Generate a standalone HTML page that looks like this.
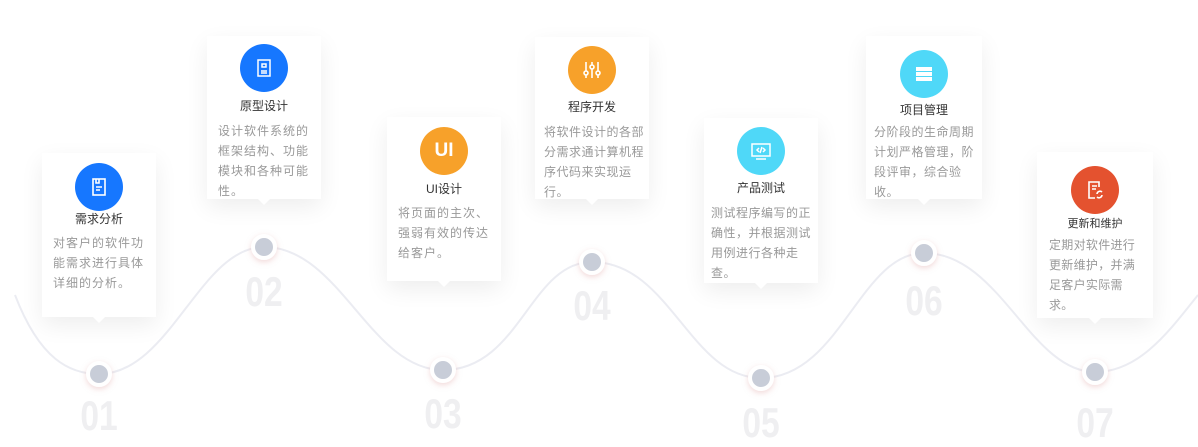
<!DOCTYPE html>
<html><head><meta charset="utf-8"><style>
*{margin:0;padding:0;box-sizing:border-box}
body{width:1198px;height:447px;background:#fff;position:relative;overflow:hidden;font-family:"Liberation Sans","Noto Sans CJK SC",sans-serif}
.card{position:absolute;background:#fff;box-shadow:0 8px 22px rgba(0,0,0,0.07)}
.card:after{content:"";position:absolute;left:50%;bottom:-6px;margin-left:-6px;border-left:6px solid transparent;border-right:6px solid transparent;border-top:6px solid #fff}
.ic{position:absolute;width:48px;height:48px;border-radius:50%;left:50%;margin-left:-24px;display:flex;align-items:center;justify-content:center;color:#fff}
.t{position:absolute;left:0;right:0;text-align:center;font-size:12px;color:#333;line-height:16px}
.d{position:absolute;left:11px;right:0;font-size:12px;color:#999;line-height:20px;letter-spacing:1px;white-space:nowrap}
.num{position:absolute;width:80px;margin-left:-40px;text-align:center;font-size:42px;font-weight:bold;color:#efeff1;transform:scaleX(0.8)}
.dot{position:absolute;width:26px;height:26px;margin:-13px 0 0 -13px;border-radius:50%;background:#c8cdd8;border:4px solid #fff;box-shadow:0 2px 6px rgba(230,180,180,0.5)}
</style></head><body>
<svg width="1198" height="447" style="position:absolute;left:0;top:0">
<path d="M15,295 C40,360 70,374 99,374 C170,374 200,247 264,247 C340,247 370,370 443,370 C520,370 530,262 592,262 C670,262 690,378 761,378 C840,378 860,253 924,253 C1000,253 1030,372 1095,372 C1140,372 1170,330 1198,295" fill="none" stroke="#ebecf2" stroke-width="2"/>
</svg>
<div class="num" style="left:99px;top:392px">01</div>
<div class="num" style="left:264px;top:268px">02</div>
<div class="num" style="left:443px;top:390px">03</div>
<div class="num" style="left:592px;top:282px">04</div>
<div class="num" style="left:761px;top:399px">05</div>
<div class="num" style="left:924px;top:277px">06</div>
<div class="num" style="left:1095px;top:399px">07</div>
<div class="dot" style="left:99px;top:374px"></div>
<div class="dot" style="left:264px;top:247px"></div>
<div class="dot" style="left:443px;top:370px"></div>
<div class="dot" style="left:592px;top:262px"></div>
<div class="dot" style="left:761px;top:378px"></div>
<div class="dot" style="left:924px;top:253px"></div>
<div class="dot" style="left:1095px;top:372px"></div>

<div class="card" style="left:42px;top:153px;width:114px;height:164px">
<div class="ic" style="top:10px;background:#1677ff"><svg width="20" height="20" viewBox="0 0 20 20" fill="none" stroke="#fff" stroke-width="1.6"><rect x="4" y="2" width="12" height="16"/><path d="M7 2v4h3V2M7 10h6M7 13h4"/></svg></div>
<div class="t" style="top:58px">需求分析</div>
<div class="d" style="top:80px">对客户的软件功<br>能需求进行具体<br>详细的分析。</div></div>

<div class="card" style="left:207px;top:36px;width:114px;height:163px">
<div class="ic" style="top:8px;background:#1677ff"><svg width="20" height="20" viewBox="0 0 20 20" fill="none" stroke="#fff" stroke-width="1.5"><rect x="4" y="2" width="12" height="16"/><path d="M8 6h4v3H8zM7 13h6M7 15h6"/></svg></div>
<div class="t" style="top:62px">原型设计</div>
<div class="d" style="top:85px">设计软件系统的<br>框架结构、功能<br>模块和各种可能<br>性。</div></div>

<div class="card" style="left:387px;top:117px;width:114px;height:164px">
<div class="ic" style="top:10px;background:#f7a12a;font-size:19px;font-weight:bold">UI</div>
<div class="t" style="top:64px">UI设计</div>
<div class="d" style="top:86px">将页面的主次、<br>强弱有效的传达<br>给客户。</div></div>

<div class="card" style="left:535px;top:37px;width:114px;height:162px">
<div class="ic" style="top:9px;background:#f7a12a"><svg width="22" height="22" viewBox="0 0 22 22" fill="none" stroke="#fff" stroke-width="1.6"><path d="M5 3v16M11 3v16M17 3v16"/><circle cx="5" cy="14" r="2" fill="#f7a12a"/><circle cx="11" cy="8" r="2" fill="#f7a12a"/><circle cx="17" cy="14" r="2" fill="#f7a12a"/></svg></div>
<div class="t" style="top:62px">程序开发</div>
<div class="d" style="top:85px;left:9px;letter-spacing:0.5px">将软件设计的各部<br>分需求通计算机程<br>序代码来实现运<br>行。</div></div>

<div class="card" style="left:704px;top:118px;width:114px;height:165px">
<div class="ic" style="top:9px;background:#4fd8f8"><svg width="22" height="22" viewBox="0 0 22 22" fill="none" stroke="#fff" stroke-width="1.5"><rect x="2" y="4" width="18" height="12"/><path d="M6 19h10M9 8l-2 2 2 2M13 8l2 2-2 2M12 7l-2 6"/></svg></div>
<div class="t" style="top:62px">产品测试</div>
<div class="d" style="top:85px;left:7px;letter-spacing:0.5px">测试程序编写的正<br>确性，并根据测试<br>用例进行各种走<br>查。</div></div>

<div class="card" style="left:866px;top:36px;width:116px;height:163px">
<div class="ic" style="top:14px;background:#4fd8f8"><svg width="22" height="22" viewBox="0 0 22 22" fill="#fff"><rect x="3" y="4" width="16" height="4"/><rect x="3" y="9" width="16" height="4"/><rect x="3" y="14" width="16" height="4"/></svg></div>
<div class="t" style="top:66px">项目管理</div>
<div class="d" style="top:86px;left:8px;letter-spacing:0.5px">分阶段的生命周期<br>计划严格管理，阶<br>段评审，综合验<br>收。</div></div>

<div class="card" style="left:1037px;top:152px;width:116px;height:166px">
<div class="ic" style="top:14px;background:#e4522f"><svg width="22" height="22" viewBox="0 0 22 22" fill="none" stroke="#fff" stroke-width="1.6"><path d="M15 8V3H5v16h6M8 7h5M8 10h4"/><path d="M13 15a3 3 0 0 1 5-2M18 16a3 3 0 0 1-5 2"/></svg></div>
<div class="t" style="top:64px;font-size:11px">更新和维护</div>
<div class="d" style="top:83px;left:12px;letter-spacing:0.3px">定期对软件进行<br>更新维护，并满<br>足客户实际需<br>求。</div></div>
</body></html>
